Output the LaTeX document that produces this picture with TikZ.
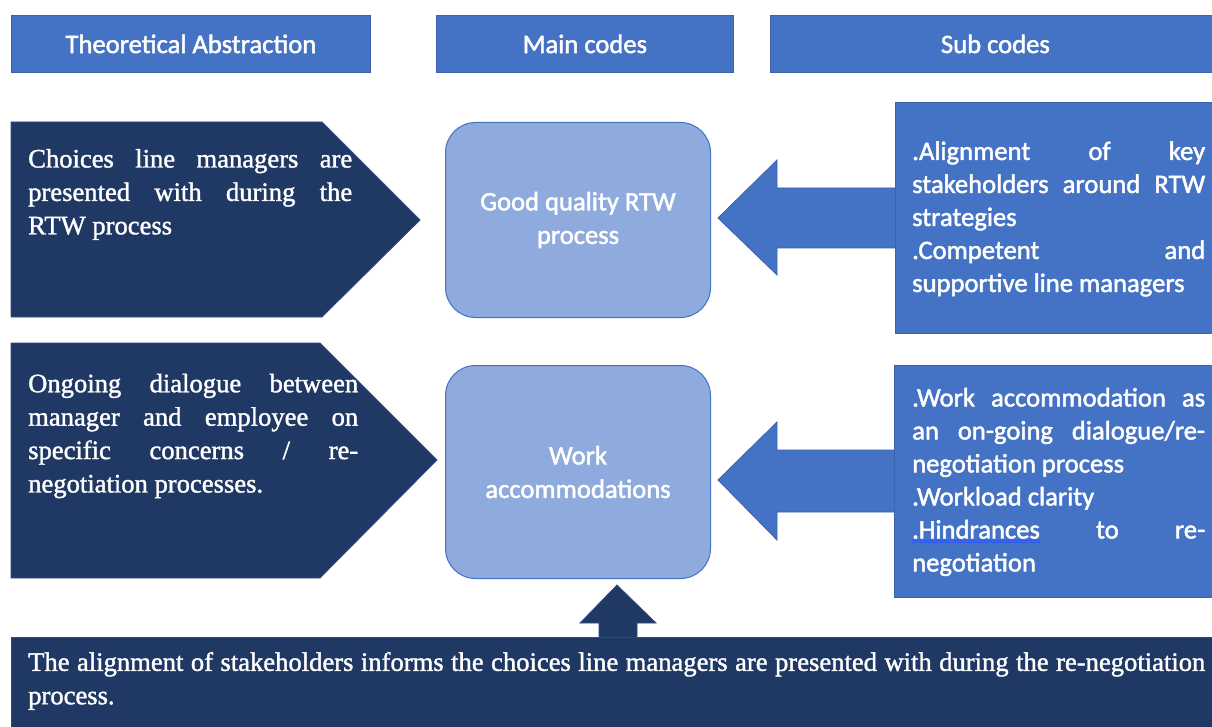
\documentclass[tikz,border=0pt]{standalone}
\usepackage{fontspec}
\setmainfont{Liberation Serif}[FakeBold=1.4]
\newfontfamily\calibri{Carlito}[FakeBold=1.8]
\usetikzlibrary{calc}

\definecolor{hdrblue}{HTML}{4472C4}
\definecolor{hdredge}{HTML}{3A62AE}
\definecolor{navy}{HTML}{203864}
\definecolor{navyedge}{HTML}{2F4C8A}
\definecolor{paleblue}{HTML}{8FAADC}
\definecolor{ulblue}{HTML}{2C58E6}

% one justified line of a given width
\newcommand\jline[2]{\makebox[#1][s]{#2}}

\begin{document}
\begin{tikzpicture}[x=1pt,y=-1pt,
  hdr/.style={draw=hdredge, line width=0.8pt, fill=hdrblue, text=white,
    font=\calibri\fontsize{26.6}{33}\selectfont, inner sep=0pt, anchor=north west},
  subbox/.style={draw=hdredge, line width=0.8pt, fill=hdrblue, inner sep=0pt, anchor=north west},
  mainbox/.style={draw=hdrblue, line width=1pt, fill=paleblue, rounded corners=30pt,
    inner sep=0pt, anchor=north west, text=white, align=center,
    font=\calibri\fontsize{26.6}{33.5}\selectfont},
  navybox/.style={draw=navyedge, line width=0.8pt, fill=navy},
  serift/.style={text=white, font=\fontsize{26.6}{33.4}\selectfont, inner sep=0pt, align=left, anchor=west},
  calt/.style={text=white, font=\calibri\fontsize{26.6}{33}\selectfont, inner sep=0pt, align=left, anchor=west},
  blockarrow/.style={draw=hdredge, line width=0.8pt, fill=hdrblue},
  uparrow/.style={draw=navyedge, line width=0.8pt, fill=navy}
]
\useasboundingbox (0,0) rectangle (1212,727);

% column headers
\node[hdr, minimum width=359pt, minimum height=57pt] (h1) at (11,15) {Theoretical Abstraction};
\node[hdr, minimum width=297pt, minimum height=57pt] (h2) at (436,15) {Main codes};
\node[hdr, minimum width=450pt, minimum height=57pt] (h3) at (770,15) {Sub codes};

% theoretical abstraction pentagons
\draw[navybox] (11,122) -- (322,122) -- (420,220) -- (322,317) -- (11,317) -- cycle;
\node[serift] (t1) at (28,194.5) {%
  \jline{324pt}{Choices line managers are}\\
  \jline{324pt}{presented with during the}\\
  RTW process};

\draw[navybox] (11,343) -- (320,343) -- (437,460) -- (320,578) -- (11,578) -- cycle;
\node[serift] (t2) at (28,436) {%
  \jline{330pt}{Ongoing dialogue between}\\
  \jline{330pt}{manager and employee on}\\
  \jline{330pt}{specific concerns / re-}\\
  negotiation processes.};

% main codes
\node[mainbox, minimum width=265pt, minimum height=195pt] (m1) at (445,122) {Good quality RTW\\process};
\node[mainbox, minimum width=265pt, minimum height=213pt] (m2) at (445,365) {Work\\accommodations};

% sub codes
\node[subbox, minimum width=325pt, minimum height=231pt] (s1) at (895,102) {};
\node[calt] (st1) at (912,219) {%
  \jline{293pt}{.Alignment of key}\\
  \jline{293pt}{stakeholders around RTW}\\
  strategies\\
  \jline{293pt}{.Competent and}\\
  supportive line managers};

\node[subbox, minimum width=325pt, minimum height=232pt] (s2) at (894,365) {};
\node[calt] (st2) at (912,482) {%
  \jline{293pt}{.Work accommodation as}\\
  \jline{293pt}{an on-going dialogue/re-}\\
  negotiation process\\
  .Workload clarity\\
  \jline{293pt}{{\color{ulblue}\underline{\underline{\color{white}.Hindrances}}} to re-}\\
  negotiation};

% block arrows from sub codes to main codes
\draw[blockarrow] (s1.west |- 0,188) -- (777,188) -- (777,160) -- (718,218)
  -- (777,275) -- (777,248) -- (s1.west |- 0,248);
\draw[blockarrow] (s2.west |- 0,450) -- (777,450) -- (777,422) -- (718,480)
  -- (777,540) -- (777,512) -- (s2.west |- 0,512);

% bottom statement
\draw[navybox] (11,637) rectangle (1216,730);
\node[serift] (bt) at (28,681) {%
  \jline{1177pt}{The alignment of stakeholders informs the choices line managers are presented with during the re-negotiation}\\
  process.};
\coordinate (bt-top) at (617,637);

% arrow up from the statement to the work accommodations box
\draw[uparrow] (bt-top -| 599,0) -- (599,623) -- (580,623) -- (617,585)
  -- (656,623) -- (637,623) -- (bt-top -| 637,0);

\end{tikzpicture}
\end{document}
